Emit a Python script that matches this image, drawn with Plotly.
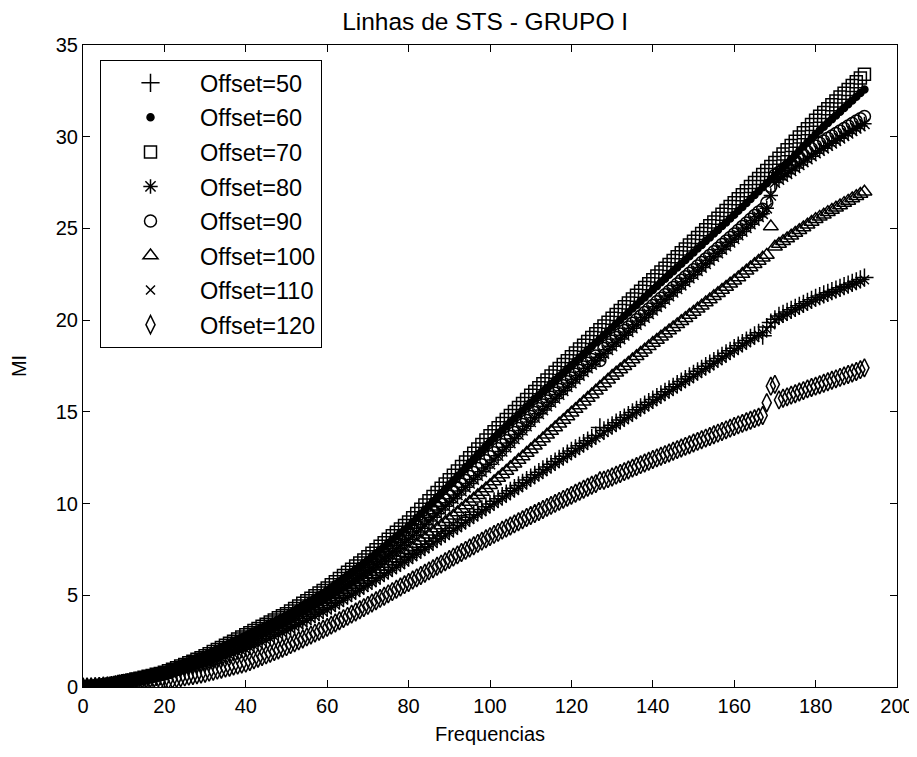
import plotly.graph_objects as go

freq = list(range(0, 193))

offset_labels = ["Offset=50", "Offset=60", "Offset=70", "Offset=80",
                 "Offset=90", "Offset=100", "Offset=110", "Offset=120"]

mi_50 = [0, 0.00, 0.01, 0.02, 0.04, 0.06, 0.08, 0.11, 0.14, 0.18, 0.22,
         0.26, 0.30, 0.34, 0.38, 0.43, 0.47, 0.51, 0.55, 0.59, 0.64,
         0.71, 0.78, 0.85, 0.91, 0.98, 1.05, 1.12, 1.18, 1.25, 1.32,
         1.40, 1.48, 1.57, 1.65, 1.73, 1.81, 1.90, 1.98, 2.06, 2.14,
         2.24, 2.35, 2.45, 2.55, 2.65, 2.76, 2.86, 2.96, 3.06, 3.17,
         3.29, 3.40, 3.52, 3.63, 3.75, 3.86, 3.98, 4.09, 4.21, 4.32,
         4.46, 4.59, 4.73, 4.86, 5.00, 5.13, 5.27, 5.40, 5.54, 5.67,
         5.81, 5.95, 6.09, 6.23, 6.37, 6.51, 6.65, 6.79, 6.93, 7.07,
         7.22, 7.36, 7.51, 7.65, 7.80, 7.94, 8.09, 8.23, 8.38, 8.52,
         8.67, 8.81, 8.96, 9.10, 9.25, 9.39, 9.54, 9.68, 9.83, 9.97,
         10.12, 10.26, 10.41, 10.55, 10.70, 10.84, 10.99, 11.13, 11.28, 11.42,
         11.57, 11.71, 11.86, 12.00, 12.15, 12.29, 12.44, 12.58, 12.73, 12.87,
         13.01, 13.15, 13.29, 13.43, 13.57, 13.71, 14.15, 13.99, 14.13, 14.27,
         14.41, 14.55, 14.69, 14.83, 14.97, 15.11, 15.25, 15.39, 15.53, 15.67,
         15.81, 15.95, 16.09, 16.23, 16.37, 16.51, 16.65, 16.79, 16.93, 17.07,
         17.21, 17.35, 17.49, 17.63, 17.77, 17.91, 18.05, 18.19, 18.33, 18.47,
         18.61, 18.75, 18.89, 19.03, 19.17, 19.31, 19.15, 19.62, 19.87, 20.05,
         20.23, 20.34, 20.45, 20.56, 20.67, 20.78, 20.89, 21.00, 21.11, 21.22,
         21.31, 21.40, 21.49, 21.58, 21.67, 21.76, 21.85, 21.94, 22.03, 22.12,
         22.22, 22.32]

mi_60 = [0, 0.01, 0.02, 0.04, 0.06, 0.08, 0.11, 0.15, 0.19, 0.24, 0.29,
         0.34, 0.39, 0.44, 0.49, 0.54, 0.58, 0.63, 0.68, 0.73, 0.78,
         0.87, 0.96, 1.04, 1.13, 1.22, 1.31, 1.40, 1.48, 1.57, 1.66,
         1.77, 1.88, 2.00, 2.11, 2.22, 2.33, 2.44, 2.56, 2.67, 2.78,
         2.89, 3.00, 3.12, 3.23, 3.34, 3.45, 3.56, 3.68, 3.79, 3.90,
         4.04, 4.17, 4.31, 4.45, 4.59, 4.72, 4.86, 5.00, 5.13, 5.27,
         5.44, 5.60, 5.77, 5.93, 6.10, 6.26, 6.43, 6.59, 6.76, 6.92,
         7.11, 7.29, 7.48, 7.66, 7.85, 8.04, 8.22, 8.41, 8.59, 8.78,
         9.00, 9.23, 9.45, 9.68, 9.90, 10.12, 10.35, 10.57, 10.80, 11.02,
         11.25, 11.49, 11.72, 11.96, 12.19, 12.42, 12.66, 12.89, 13.13, 13.36,
         13.57, 13.79, 14.00, 14.22, 14.43, 14.64, 14.86, 15.07, 15.29, 15.50,
         15.71, 15.91, 16.12, 16.32, 16.53, 16.73, 16.94, 17.14, 17.35, 17.55,
         17.76, 17.96, 18.17, 18.37, 18.58, 18.78, 18.99, 19.19, 19.40, 19.60,
         19.81, 20.01, 20.22, 20.42, 20.63, 20.83, 21.04, 21.24, 21.45, 21.65,
         21.85, 22.06, 22.26, 22.47, 22.67, 22.87, 23.08, 23.28, 23.49, 23.69,
         23.90, 24.10, 24.31, 24.51, 24.72, 24.92, 25.13, 25.33, 25.54, 25.74,
         25.96, 26.17, 26.39, 26.60, 26.82, 27.03, 27.25, 27.46, 27.68, 27.89,
         28.11, 28.34, 28.56, 28.79, 29.01, 29.23, 29.46, 29.68, 29.91, 30.13,
         30.34, 30.54, 30.75, 30.95, 31.16, 31.36, 31.57, 31.77, 31.98, 32.18,
         32.38, 32.57]

mi_70 = [0, 0.01, 0.02, 0.04, 0.06, 0.09, 0.12, 0.16, 0.20, 0.25, 0.30,
         0.34, 0.38, 0.43, 0.48, 0.53, 0.58, 0.63, 0.69, 0.74, 0.80,
         0.88, 0.97, 1.05, 1.14, 1.23, 1.32, 1.41, 1.51, 1.60, 1.70,
         1.81, 1.93, 2.04, 2.16, 2.27, 2.39, 2.50, 2.62, 2.73, 2.85,
         2.96, 3.08, 3.19, 3.31, 3.42, 3.54, 3.65, 3.77, 3.88, 4.00,
         4.14, 4.28, 4.42, 4.56, 4.70, 4.84, 4.98, 5.12, 5.26, 5.40,
         5.57, 5.74, 5.91, 6.08, 6.25, 6.42, 6.59, 6.76, 6.93, 7.10,
         7.29, 7.48, 7.67, 7.86, 8.05, 8.24, 8.43, 8.62, 8.81, 9.00,
         9.23, 9.46, 9.69, 9.92, 10.15, 10.38, 10.61, 10.84, 11.07, 11.30,
         11.54, 11.78, 12.02, 12.26, 12.50, 12.74, 12.98, 13.22, 13.46, 13.70,
         13.92, 14.14, 14.36, 14.58, 14.80, 15.02, 15.24, 15.46, 15.68, 15.90,
         16.11, 16.32, 16.53, 16.74, 16.95, 17.16, 17.37, 17.58, 17.79, 18.00,
         18.21, 18.42, 18.63, 18.84, 19.05, 19.26, 19.47, 19.68, 19.89, 20.10,
         20.31, 20.52, 20.73, 20.94, 21.15, 21.36, 21.57, 21.78, 21.99, 22.20,
         22.41, 22.62, 22.83, 23.04, 23.25, 23.46, 23.67, 23.88, 24.09, 24.30,
         24.51, 24.72, 24.93, 25.14, 25.35, 25.56, 25.77, 25.98, 26.19, 26.40,
         26.62, 26.84, 27.06, 27.28, 27.50, 27.72, 27.94, 28.16, 28.38, 28.60,
         28.83, 29.06, 29.29, 29.52, 29.75, 29.98, 30.21, 30.44, 30.67, 30.90,
         31.11, 31.32, 31.53, 31.74, 31.95, 32.16, 32.37, 32.58, 32.79, 33.00,
         33.20, 33.40]

mi_80 = [0, 0.01, 0.02, 0.04, 0.06, 0.08, 0.10, 0.13, 0.17, 0.22, 0.27,
         0.32, 0.36, 0.41, 0.45, 0.50, 0.55, 0.59, 0.64, 0.68, 0.73,
         0.81, 0.89, 0.97, 1.05, 1.14, 1.22, 1.30, 1.38, 1.46, 1.54,
         1.64, 1.74, 1.84, 1.94, 2.05, 2.15, 2.25, 2.35, 2.45, 2.55,
         2.66, 2.76, 2.87, 2.97, 3.08, 3.18, 3.29, 3.39, 3.50, 3.60,
         3.73, 3.85, 3.98, 4.10, 4.23, 4.35, 4.48, 4.60, 4.73, 4.85,
         5.00, 5.15, 5.30, 5.45, 5.60, 5.75, 5.90, 6.05, 6.20, 6.35,
         6.52, 6.69, 6.86, 7.03, 7.20, 7.37, 7.54, 7.71, 7.88, 8.05,
         8.25, 8.45, 8.65, 8.85, 9.05, 9.25, 9.45, 9.65, 9.85, 10.05,
         10.26, 10.47, 10.68, 10.89, 11.10, 11.31, 11.52, 11.73, 11.94, 12.15,
         12.38, 12.61, 12.84, 13.07, 13.30, 13.53, 13.76, 13.99, 14.22, 14.45,
         14.68, 14.89, 15.10, 15.31, 15.52, 15.73, 15.94, 16.15, 16.36, 16.57,
         16.78, 16.98, 17.18, 17.38, 17.58, 17.78, 17.98, 18.18, 18.38, 18.58,
         18.78, 18.97, 19.17, 19.36, 19.56, 19.75, 19.95, 20.14, 20.34, 20.53,
         20.73, 20.92, 21.12, 21.31, 21.51, 21.70, 21.90, 22.09, 22.29, 22.48,
         22.68, 22.87, 23.07, 23.26, 23.46, 23.65, 23.85, 24.04, 24.24, 24.43,
         24.63, 24.83, 25.03, 25.23, 25.43, 25.63, 25.80, 26.10, 26.80, 27.50,
         27.66, 27.82, 27.98, 28.14, 28.30, 28.46, 28.62, 28.78, 28.94, 29.10,
         29.24, 29.37, 29.51, 29.64, 29.78, 29.91, 30.05, 30.18, 30.32, 30.45,
         30.58, 30.70]

mi_90 = [0, 0.01, 0.02, 0.04, 0.06, 0.08, 0.11, 0.14, 0.18, 0.23, 0.28,
         0.33, 0.38, 0.42, 0.47, 0.52, 0.57, 0.62, 0.66, 0.71, 0.76,
         0.84, 0.93, 1.01, 1.10, 1.18, 1.26, 1.35, 1.43, 1.52, 1.60,
         1.71, 1.81, 1.92, 2.02, 2.13, 2.23, 2.34, 2.44, 2.55, 2.65,
         2.76, 2.87, 2.98, 3.09, 3.20, 3.31, 3.42, 3.53, 3.64, 3.75,
         3.88, 4.01, 4.14, 4.27, 4.40, 4.53, 4.66, 4.79, 4.92, 5.05,
         5.21, 5.36, 5.52, 5.67, 5.83, 5.98, 6.14, 6.29, 6.45, 6.60,
         6.78, 6.95, 7.13, 7.30, 7.48, 7.65, 7.83, 8.00, 8.18, 8.35,
         8.56, 8.76, 8.97, 9.17, 9.38, 9.58, 9.79, 9.99, 10.20, 10.40,
         10.62, 10.83, 11.05, 11.26, 11.48, 11.69, 11.91, 12.12, 12.34, 12.55,
         12.77, 12.99, 13.21, 13.43, 13.65, 13.87, 14.09, 14.31, 14.53, 14.75,
         14.96, 15.17, 15.38, 15.59, 15.80, 16.01, 16.22, 16.43, 16.64, 16.85,
         17.05, 17.25, 17.45, 17.65, 17.85, 18.05, 17.80, 18.45, 18.65, 18.85,
         19.05, 19.24, 19.44, 19.63, 19.83, 20.02, 20.22, 20.41, 20.61, 20.80,
         21.00, 21.19, 21.39, 21.58, 21.78, 21.97, 22.17, 22.36, 22.56, 22.75,
         22.95, 23.14, 23.34, 23.53, 23.73, 23.92, 24.12, 24.31, 24.51, 24.70,
         24.90, 25.10, 25.30, 25.50, 25.70, 25.90, 26.05, 26.40, 27.30, 27.90,
         28.06, 28.22, 28.38, 28.54, 28.70, 28.86, 29.02, 29.18, 29.34, 29.50,
         29.64, 29.77, 29.91, 30.04, 30.18, 30.31, 30.45, 30.58, 30.72, 30.85,
         30.98, 31.10]

mi_100 = [0, 0.01, 0.02, 0.03, 0.05, 0.07, 0.10, 0.13, 0.16, 0.20, 0.25,
          0.30, 0.34, 0.39, 0.43, 0.48, 0.52, 0.57, 0.61, 0.66, 0.70,
          0.78, 0.85, 0.93, 1.00, 1.08, 1.15, 1.23, 1.30, 1.38, 1.45,
          1.55, 1.64, 1.74, 1.83, 1.93, 2.02, 2.12, 2.21, 2.31, 2.40,
          2.51, 2.61, 2.72, 2.82, 2.93, 3.03, 3.14, 3.24, 3.35, 3.45,
          3.57, 3.68, 3.80, 3.91, 4.03, 4.14, 4.26, 4.37, 4.49, 4.60,
          4.74, 4.87, 5.01, 5.14, 5.28, 5.41, 5.55, 5.68, 5.82, 5.95,
          6.10, 6.25, 6.40, 6.55, 6.70, 6.85, 7.00, 7.15, 7.30, 7.45,
          7.62, 7.79, 7.96, 8.13, 8.30, 8.47, 8.64, 8.81, 8.98, 9.15,
          9.34, 9.52, 9.71, 9.89, 10.08, 10.26, 10.45, 10.63, 10.82, 11.00,
          11.20, 11.39, 11.59, 11.78, 11.98, 12.17, 12.37, 12.56, 12.76, 12.95,
          13.15, 13.35, 13.55, 13.75, 13.95, 14.15, 14.35, 14.55, 14.75, 14.95,
          15.15, 15.35, 15.55, 15.75, 15.95, 16.15, 16.35, 16.55, 16.75, 16.95,
          17.13, 17.31, 17.49, 17.67, 17.85, 18.03, 18.21, 18.39, 18.57, 18.75,
          18.92, 19.09, 19.26, 19.43, 19.60, 19.77, 19.94, 20.11, 20.28, 20.45,
          20.62, 20.79, 20.96, 21.13, 21.30, 21.47, 21.64, 21.81, 21.98, 22.15,
          22.33, 22.51, 22.69, 22.87, 23.05, 23.23, 23.40, 23.55, 25.10, 24.00,
          24.15, 24.30, 24.45, 24.60, 24.75, 24.90, 25.05, 25.20, 25.35, 25.50,
          25.63, 25.75, 25.88, 26.00, 26.13, 26.25, 26.38, 26.50, 26.63, 26.75,
          26.88, 27.00]

mi_110 = [0, 0.00, 0.01, 0.02, 0.04, 0.06, 0.08, 0.10, 0.13, 0.16, 0.20,
          0.24, 0.28, 0.32, 0.36, 0.40, 0.44, 0.48, 0.52, 0.56, 0.60,
          0.67, 0.73, 0.80, 0.86, 0.93, 0.99, 1.06, 1.12, 1.19, 1.25,
          1.33, 1.41, 1.49, 1.57, 1.65, 1.73, 1.81, 1.89, 1.97, 2.05,
          2.15, 2.25, 2.35, 2.45, 2.55, 2.65, 2.75, 2.85, 2.95, 3.05,
          3.17, 3.28, 3.40, 3.51, 3.63, 3.74, 3.86, 3.97, 4.09, 4.20,
          4.34, 4.47, 4.61, 4.74, 4.88, 5.01, 5.15, 5.28, 5.42, 5.55,
          5.69, 5.83, 5.97, 6.11, 6.25, 6.39, 6.53, 6.67, 6.81, 6.95,
          7.10, 7.24, 7.39, 7.53, 7.68, 7.82, 7.97, 8.11, 8.26, 8.40,
          8.55, 8.69, 8.84, 8.98, 9.13, 9.27, 9.42, 9.56, 9.71, 9.85,
          10.00, 10.14, 10.29, 10.43, 10.58, 10.72, 10.87, 11.01, 11.16, 11.30,
          11.45, 11.59, 11.74, 11.88, 12.03, 12.17, 12.32, 12.46, 12.61, 12.75,
          12.89, 13.03, 13.17, 13.31, 13.45, 13.59, 13.73, 13.87, 14.01, 14.15,
          14.29, 14.43, 14.57, 14.71, 14.85, 14.99, 15.13, 15.27, 15.41, 15.55,
          15.69, 15.83, 15.97, 16.11, 16.25, 16.39, 16.53, 16.67, 16.81, 16.95,
          17.09, 17.23, 17.37, 17.51, 17.65, 17.79, 17.93, 18.07, 18.21, 18.35,
          18.49, 18.63, 18.77, 18.91, 19.05, 19.19, 19.30, 19.50, 19.75, 20.00,
          20.11, 20.22, 20.33, 20.44, 20.55, 20.66, 20.77, 20.88, 20.99, 21.10,
          21.19, 21.28, 21.37, 21.46, 21.55, 21.64, 21.73, 21.82, 21.91, 22.00,
          22.10, 22.20]

mi_120 = [0, 0.00, 0.01, 0.02, 0.03, 0.04, 0.05, 0.06, 0.08, 0.10, 0.12,
          0.14, 0.17, 0.19, 0.21, 0.24, 0.26, 0.28, 0.30, 0.33, 0.35,
          0.39, 0.43, 0.47, 0.51, 0.55, 0.59, 0.63, 0.67, 0.71, 0.75,
          0.81, 0.86, 0.92, 0.97, 1.03, 1.08, 1.14, 1.19, 1.25, 1.30,
          1.39, 1.48, 1.57, 1.66, 1.75, 1.84, 1.93, 2.02, 2.11, 2.20,
          2.31, 2.41, 2.52, 2.62, 2.73, 2.83, 2.94, 3.04, 3.15, 3.25,
          3.37, 3.49, 3.61, 3.73, 3.85, 3.97, 4.09, 4.21, 4.33, 4.45,
          4.58, 4.70, 4.83, 4.95, 5.08, 5.20, 5.33, 5.45, 5.58, 5.70,
          5.83, 5.95, 6.08, 6.20, 6.33, 6.45, 6.58, 6.70, 6.83, 6.95,
          7.08, 7.20, 7.33, 7.45, 7.58, 7.70, 7.83, 7.95, 8.08, 8.20,
          8.32, 8.43, 8.55, 8.66, 8.78, 8.89, 9.01, 9.12, 9.24, 9.35,
          9.46, 9.57, 9.68, 9.79, 9.90, 10.01, 10.12, 10.23, 10.34, 10.45,
          10.56, 10.67, 10.78, 10.89, 11.00, 11.09, 11.25, 11.27, 11.36, 11.45,
          11.55, 11.64, 11.74, 11.83, 11.93, 12.02, 12.12, 12.21, 12.31, 12.40,
          12.49, 12.58, 12.67, 12.76, 12.85, 12.94, 13.03, 13.12, 13.21, 13.30,
          13.39, 13.48, 13.57, 13.66, 13.75, 13.84, 13.93, 14.02, 14.11, 14.20,
          14.29, 14.37, 14.46, 14.54, 14.63, 14.71, 14.80, 15.50, 16.40, 16.50,
          15.65, 15.74, 15.82, 15.91, 15.99, 16.08, 16.16, 16.25, 16.33, 16.40,
          16.48, 16.56, 16.64, 16.72, 16.80, 16.88, 16.96, 17.04, 17.12, 17.20,
          17.30, 17.40]

series = [mi_50, mi_60, mi_70, mi_80, mi_90, mi_100, mi_110, mi_120]
symbols = ["cross-thin-open", "circle", "square-open", "asterisk-open",
           "circle-open", "triangle-up-open", "x-thin-open", "diamond-tall-open"]
sizes = [13, 7, 12, 12, 12, 13, 9, 13]

x_ticks = list(range(0, 201, 20))
y_ticks = list(range(0, 36, 5))

fig = go.Figure()
for i, (name, vals) in enumerate(zip(offset_labels, series)):
    fig.add_trace(go.Scatter(
        x=freq, y=vals, mode="markers", name=name,
        legendgroup="g%d" % i,
        marker=dict(symbol=symbols[i], size=sizes[i], color="black",
                    line=dict(color="black", width=1.5)),
    ))

# The page body keeps its default 8 px margin, so the layout margins are
# reduced by 8 px on the left and top to place the axes like the reference.
font_family = "Liberation Sans, Arial, sans-serif"
fig.update_layout(
    width=917, height=757,
    margin=dict(l=75, r=28, t=37, b=78),
    paper_bgcolor="white", plot_bgcolor="white",
    font=dict(family=font_family, size=20, color="black"),
    title=dict(text="Linhas de STS - GRUPO I", x=0.494, xref="paper",
               xanchor="center", y=1 - 13 / 757, yanchor="middle",
               yref="container", font=dict(size=24.5, color="black")),
    showlegend=True,
    legend=dict(x=(100 - 83) / 814, y=1 - (60 - 45) / 642,
                xanchor="left", yanchor="top",
                bordercolor="black", borderwidth=1, bgcolor="white",
                font=dict(size=23.5, color="black"),
                tracegroupgap=1, itemwidth=89, traceorder="grouped"),
)
fig.update_xaxes(
    range=[0, 200], tickvals=x_ticks, ticks="inside", ticklen=7,
    tickcolor="black", showline=True, linecolor="black", linewidth=1,
    mirror="ticks", showgrid=False, zeroline=False, automargin=False,
    tickfont=dict(size=20), ticklabelstandoff=1,
    title=dict(text="Frequencias", font=dict(size=20), standoff=10),
)
fig.update_yaxes(
    range=[0, 35], tickvals=y_ticks, ticks="inside", ticklen=7,
    tickcolor="black", showline=True, linecolor="black", linewidth=1,
    mirror="ticks", showgrid=False, zeroline=False, automargin=False,
    tickfont=dict(size=20), ticklabelstandoff=0,
    title=dict(text="MI", font=dict(size=20), standoff=24),
)

fig.write_html("out.html")
